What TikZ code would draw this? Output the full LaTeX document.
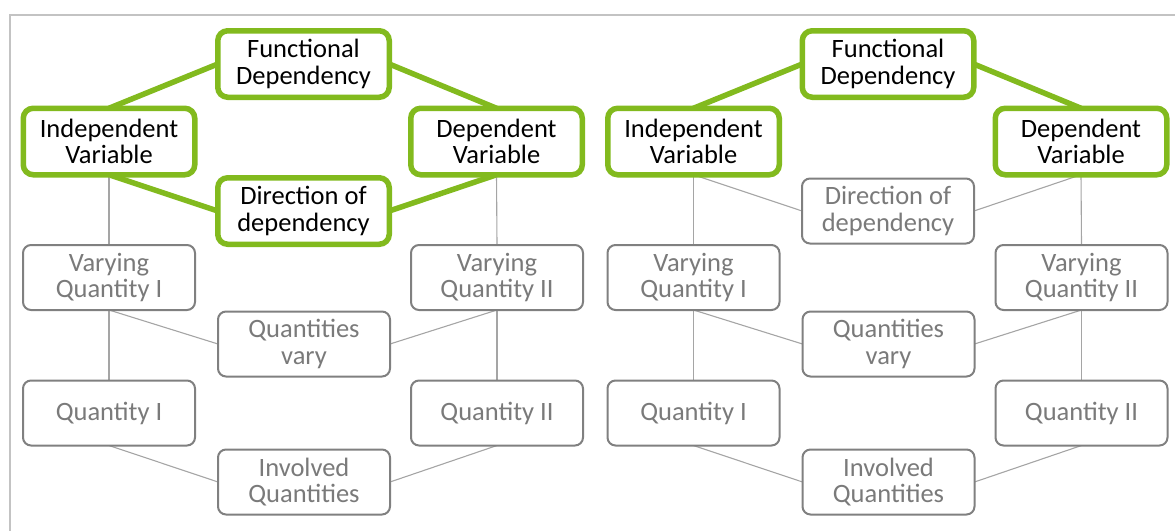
\documentclass[tikz,border=0pt]{standalone}
\usepackage{fontspec}
\setmainfont{Carlito}
\usetikzlibrary{backgrounds}
\definecolor{grn}{RGB}{130,186,30}
\definecolor{gbord}{RGB}{128,128,128}
\definecolor{gtext}{RGB}{122,122,122}
\definecolor{gline}{RGB}{165,165,165}
\definecolor{framec}{RGB}{195,195,195}
\begin{document}
\begin{tikzpicture}[x=1pt,y=-1pt,
  txt/.style={align=center, font=\fontsize{26.5}{26.5}\selectfont, inner sep=0pt, outer sep=0pt, fill=white},
  gbox/.style={txt, draw=grn, line width=5.5pt, rounded corners=10pt, minimum width=171.5pt, minimum height=66.5pt, text=black},
  wbox/.style={txt, draw=gbord, line width=2pt, rounded corners=8pt, minimum width=172pt, minimum height=65pt, text=gtext},
  gedge/.style={draw=grn, line width=5.5pt},
  wedge/.style={draw=gline, line width=1.1pt}]
\useasboundingbox (0,0) rectangle (1175,530);
\draw[framec, line width=2pt] (10,531) -- (10,15) -- (1176,15);
\foreach \dx/\p/\ds/\de in {0/l/gbox/gedge, 584.5/r/wbox/wedge}{
  \begin{scope}[shift={(\dx,0)}]
    \node[gbox] (\p-fd)  at (303.5,64)    {Functional\\Dependency};
    \node[gbox] (\p-iv)  at (109,141.5)   {Independent\\Variable};
    \node[gbox] (\p-dv)  at (496.5,141.5) {Dependent\\Variable};
    \node[\ds]  (\p-dir) at (303.5,211)   {Direction of\\dependency};
    \node[wbox] (\p-vq1) at (109,277.5)   {Varying\\Quantity I};
    \node[wbox] (\p-vq2) at (497,277.5)   {Varying\\Quantity II};
    \node[wbox] (\p-qv)  at (304,344)     {Quantities\\vary};
    \node[wbox] (\p-q1)  at (109,413)     {Quantity I};
    \node[wbox] (\p-q2)  at (497,413)     {Quantity II};
    \node[wbox] (\p-inv) at (304,482)     {Involved\\Quantities};
  \end{scope}
  \begin{scope}[on background layer]
    \draw[gedge] (\p-iv.north) -- (\p-fd.west);
    \draw[gedge] (\p-dv.north) -- (\p-fd.east);
    \draw[\de] (\p-iv.south) -- (\p-dir.west);
    \draw[\de] (\p-dv.south) -- (\p-dir.east);
    \draw[wedge] (\p-iv.south) -- (\p-vq1.north);
    \draw[wedge] (\p-dv.south) -- (\p-vq2.north);
    \draw[wedge] (\p-vq1.south) -- (\p-qv.west);
    \draw[wedge] (\p-vq2.south) -- (\p-qv.east);
    \draw[wedge] (\p-vq1.south) -- (\p-q1.north);
    \draw[wedge] (\p-vq2.south) -- (\p-q2.north);
    \draw[wedge] (\p-q1.south) -- (\p-inv.west);
    \draw[wedge] (\p-q2.south) -- (\p-inv.east);
  \end{scope}
}
\end{tikzpicture}
\end{document}
